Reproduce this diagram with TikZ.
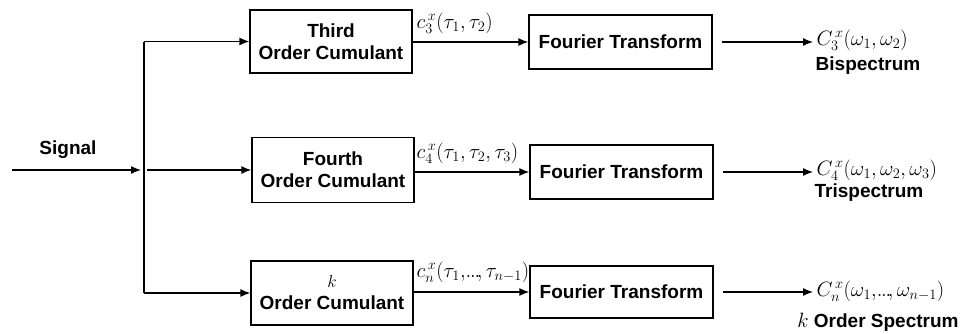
\documentclass[tikz,border=0pt]{standalone}
\usepackage{fontspec}
\setmainfont{Liberation Sans}
\usetikzlibrary{arrows.meta}
\newcommand\tdots{\mathord{.\mkern-1mu.\mkern-1mu.}}
\begin{document}
\begin{tikzpicture}[x=1pt,y=-1pt,
  every path/.style={line width=1.3pt},
  blk/.style={draw,line width=1.3pt,align=center,font=\fontsize{19}{22}\selectfont\bfseries,inner sep=0pt},
  cum/.style={blk,minimum width=162pt,minimum height=63pt},
  ft/.style={blk,minimum width=183pt,minimum height=54pt},
  arr/.style={-{Latex[length=10pt,width=8pt]}},
  lbl/.style={font=\fontsize{19}{22}\selectfont\bfseries,inner sep=0pt},
  mth/.style={font=\fontsize{20.5}{24}\selectfont,inner sep=0pt}]
\useasboundingbox (0,0) rectangle (977,333);

\node[cum] (c1) at (331,41.5) {Third\\Order Cumulant};
\node[cum,minimum height=65pt] (c2) at (333,170) {Fourth\\Order Cumulant};
\node[cum,minimum height=64pt] (c3) at (332,293) {$k$\\Order Cumulant};

\node[ft] (f1) at (620.5,42) {Fourier Transform};
\node[ft] (f2) at (621.5,172) {Fourier Transform};
\node[ft,minimum height=52pt] (f3) at (621.5,292) {Fourier Transform};

% signal input
\coordinate (sin) at (12,170);
\coordinate (jn) at (144,170);
\coordinate (jt) at (144,41.5);
\coordinate (jb) at (144,293);
\node[lbl] (sig) at (68,150) {Signal};
\draw[arr,shorten >=3pt] (sin) -- (jn);
\draw (jt) -- (jb);
\draw[arr] (jt) -- (c1.west);
\draw[arr,shorten <=3pt] (jn) -- (c2.west);
\draw[arr] (jb) -- (c3.west);

% cumulant to FT
\draw[arr] (c1.east|-f1.west) -- (f1.west);
\draw[arr] (c2.east|-f2.west) -- (f2.west);
\draw[arr] (c3.east|-f3.west) -- (f3.west);
\node[mth,anchor=base west] (l1) at (416,28) {$c_3^{\,x}(\tau_1,\tau_2)$};
\node[mth,anchor=base west] (l2) at (416,158) {$c_4^{\,x}(\tau_1,\tau_2,\tau_3)$};
\node[mth,anchor=base west] (l3) at (416,277) {$c_n^{\,x}(\tau_1,\!\tdots\!,\tau_{n-1})$};

% outputs
\coordinate (o1) at (813,42);
\coordinate (o2) at (813,172);
\coordinate (o3) at (813,292);
\draw[arr,shorten <=9pt] (f1.east) -- (o1);
\draw[arr,shorten <=9pt] (f2.east) -- (o2);
\draw[arr,shorten <=9pt] (f3.east) -- (o3);
\node[mth,anchor=west] (r1) at (816,40) {$C_3^{\,x}(\omega_1,\omega_2)$};
\node[mth,anchor=west] (r2) at (816,170) {$C_4^{\,x}(\omega_1,\omega_2,\omega_3)$};
\node[mth,anchor=west] (r3) at (816,291) {$C_n^{\,x}(\omega_1,\!\tdots\!,\omega_{n-1})$};
\node[lbl] (t1) at (868,66) {Bispectrum};
\node[lbl] (t2) at (869,193) {Trispectrum};
\node[lbl] (t3) at (878,322) {{\normalfont\fontsize{20.5}{24}\selectfont$k$} Order Spectrum};
\end{tikzpicture}
\end{document}
